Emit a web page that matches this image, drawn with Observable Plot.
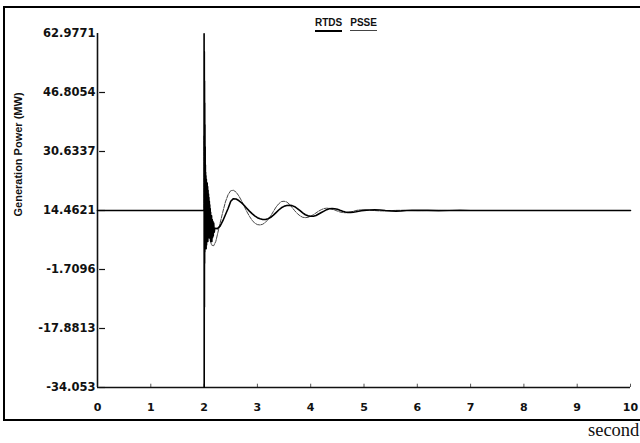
<!DOCTYPE html>
<html>
<head>
<meta charset="utf-8">
<script src="https://cdn.jsdelivr.net/npm/d3@7"></script>
<script src="https://cdn.jsdelivr.net/npm/@observablehq/plot@0.6"></script>
<style>
  html, body { margin: 0; padding: 0; background: #fff; overflow: hidden; }
  #wrap { position: relative; width: 640px; height: 443px; overflow: hidden; }
  #box { position: absolute; left: 3px; top: 6px; width: 720px; height: 411px;
         border: 2px solid #000; border-right: none; box-sizing: content-box; }
  #chart { position: absolute; left: 0; top: 0; }
  #legend { position: absolute; left: 315px; top: 17px; font-family: "Liberation Sans", Arial, sans-serif;
            font-weight: bold; font-size: 10px; color: #111; white-space: nowrap; }
  #legend span { display: inline-block; padding-bottom: 2px; margin-right: 8px; }
  #legend .rtds { border-bottom: 2px solid #000; }
  #legend .psse { border-bottom: 1px solid #444; }
  #unit { position: absolute; left: 588px; top: 421px; font-family: "Liberation Serif", "DejaVu Serif", serif;
          font-size: 18.5px; color: #111; white-space: nowrap; line-height: 1; }
</style>
</head>
<body>
<div id="wrap">
  <div id="box"></div>
  <div id="chart"></div>
  <div id="legend"><span class="rtds">RTDS</span><span class="psse">PSSE</span></div>
  <div id="unit">second</div>
</div>
<script>
// ---- data ----
const seriesNames = ["RTDS", "PSSE"];
const yTicks = [62.9771, 46.8054, 30.6337, 14.4621, -1.7096, -17.8813, -34.053];
const xTicks = [0, 1, 2, 3, 4, 5, 6, 7, 8, 9, 10];
const yLabel = "Generation Power (MW)";

const rtdsT = [0, 1.0, 1.999, 2.000, 2.002, 2.004, 2.006, 2.008, 2.010, 2.012, 2.014, 2.016, 2.018, 2.020, 2.022,
  2.024, 2.026, 2.028, 2.030, 2.034, 2.038, 2.042, 2.046, 2.050, 2.054, 2.058, 2.062, 2.066, 2.070, 2.074, 2.078,
  2.082, 2.086, 2.090, 2.094, 2.098, 2.102, 2.106, 2.110, 2.114, 2.118, 2.122, 2.126, 2.130, 2.134, 2.140, 2.146,
  2.152, 2.158, 2.165, 2.172, 2.180, 2.190, 2.20, 2.25, 2.30, 2.35, 2.40, 2.45, 2.50, 2.55, 2.60, 2.65, 2.70, 2.75, 2.80, 2.85,
  2.90, 2.95, 3.00, 3.05, 3.10, 3.15, 3.20, 3.25, 3.30, 3.35, 3.40, 3.45, 3.50, 3.55, 3.60, 3.65, 3.70, 3.75, 3.80,
  3.85, 3.90, 3.95, 4.00, 4.05, 4.10, 4.15, 4.20, 4.25, 4.30, 4.35, 4.40, 4.45, 4.50, 4.55, 4.60, 4.65, 4.70, 4.75,
  4.80, 4.85, 4.90, 4.95, 5.00, 5.10, 5.20, 5.30, 5.40, 5.50, 5.60, 5.70, 5.80, 5.90, 6.00, 6.20, 6.40, 6.60, 6.80,
  7.00, 8.00, 9.00, 10.0];
const rtdsV = [14.4621, 14.4621, 14.4621, 62.9, -34.0, 58, -12, 50, 0, 44, 3, 38, 5, 32, 6,
  27, 6, 25, 5, 24, 4, 23, 5, 22, 6, 22, 7, 21, 6, 20, 7,
  19, 7, 18, 8, 17, 7, 16, 8, 15, 7, 14, 6, 13, 7, 13, 6,
  12, 7, 11.5, 7.5, 11, 8.5, 9.6, 9.5, 10.2, 11.6, 13.3, 15.0, 17.0, 17.7, 17.6, 17.2, 16.6, 15.9, 15.1, 14.3,
  13.6, 13.0, 12.5, 12.2, 12.0, 12.0, 12.2, 12.6, 13.2, 13.9, 14.6, 15.2, 15.6, 15.85, 15.9, 15.8, 15.5, 15.0, 14.4,
  13.8, 13.3, 13.0, 12.9, 12.9, 13.1, 13.5, 13.9, 14.3, 14.7, 14.95, 15.0, 14.95, 14.8, 14.5, 14.25, 14.05, 13.95, 13.95,
  14.0, 14.1, 14.25, 14.4, 14.5, 14.6, 14.65, 14.6, 14.45, 14.35, 14.3, 14.35, 14.45, 14.5, 14.55, 14.5, 14.42, 14.45, 14.5,
  14.47, 14.46, 14.46, 14.46];

const psseT = [0, 1.999, 2.000, 2.001, 2.010, 2.030, 2.060, 2.100, 2.140, 2.180, 2.220, 2.260, 2.30, 2.35, 2.40,
  2.45, 2.50, 2.55, 2.60, 2.65, 2.70, 2.75, 2.80, 2.85, 2.90, 2.95, 3.00, 3.05, 3.10, 3.15, 3.20, 3.25, 3.30, 3.35,
  3.40, 3.45, 3.50, 3.55, 3.60, 3.65, 3.70, 3.75, 3.80, 3.85, 3.90, 3.95, 4.00, 4.05, 4.10, 4.15, 4.20, 4.25, 4.30,
  4.35, 4.40, 4.45, 4.50, 4.55, 4.60, 4.65, 4.70, 4.75, 4.80, 4.85, 4.90, 5.00, 5.10, 5.20, 5.30, 5.40, 5.50, 5.60,
  5.70, 5.80, 6.00, 6.50, 7.00, 10.0];
const psseV = [14.4621, 14.4621, 14.4621, 35, 25, 20, 12, 7, 5, 4.8, 6, 8.5, 11, 14, 16.8,
  18.8, 19.9, 20.0, 19.5, 18.5, 17.2, 15.7, 14.2, 12.9, 11.8, 11.0, 10.6, 10.5, 10.7, 11.2, 12.0, 13.0, 14.2, 15.4,
  16.3, 16.9, 17.0, 16.8, 16.2, 15.3, 14.4, 13.6, 13.0, 12.6, 12.5, 12.6, 12.9, 13.3, 13.8, 14.3, 14.7, 15.0, 15.1,
  15.05, 14.85, 14.6, 14.3, 14.05, 13.9, 13.85, 13.9, 14.05, 14.25, 14.45, 14.6, 14.65, 14.55, 14.45, 14.35, 14.35, 14.42, 14.5,
  14.52, 14.48, 14.44, 14.47, 14.46, 14.46];

// ---- tables built from the arrays ----
const rtds = rtdsT.map((t, i) => ({t, v: rtdsV[i], s: seriesNames[0]}));
const psse = psseT.map((t, i) => ({t, v: psseV[i], s: seriesNames[1]}));
const yMin = d3.min(yTicks), yMax = d3.max(yTicks);

const chart = Plot.plot({
  width: 640,
  height: 443,
  marginLeft: 97,
  marginRight: 10,
  marginTop: 33,
  marginBottom: 56,
  x: {domain: [0, 10]},
  y: {domain: [yMin, yMax]},
  style: {background: "transparent", color: "#111"},
  marks: [
    Plot.axisY({ticks: yTicks, tickFormat: d => String(d), tickSize: 0, tickPadding: 2, label: null,
      fontSize: 11.5, fontWeight: "bold", fontFamily: "DejaVu Sans"}),
    Plot.axisX({ticks: xTicks, tickFormat: d => String(d), tickSize: 0, tickPadding: 16, label: null,
      fontSize: 11, fontWeight: "bold", fontFamily: "DejaVu Sans"}),
    Plot.text([yLabel], {frameAnchor: "left", text: d => d, rotate: -90, dx: -79, dy: 6,
      fontSize: 11, fontWeight: "bold", fontFamily: "Liberation Sans"}),
    Plot.ruleY(yTicks.slice(1), {x1: 0.04, x2: 0.15, stroke: "#111", strokeWidth: 1.2}),
    Plot.ruleX(xTicks.slice(1), {y1: yMin, y2: yMin + 0.9, stroke: "#555", strokeWidth: 1}),
    Plot.ruleX([0], {stroke: "#111", strokeWidth: 1.6}),
    Plot.ruleY([yMin], {stroke: "#111", strokeWidth: 1.6}),
    Plot.line(psse, {x: "t", y: "v", stroke: "#333", strokeWidth: 0.9, strokeDasharray: "4 1.2"}),
    Plot.line(rtds, {x: "t", y: "v", stroke: "#000", strokeWidth: 1.6})
  ]
});
document.getElementById("chart").appendChild(chart);
</script>
</body>
</html>
